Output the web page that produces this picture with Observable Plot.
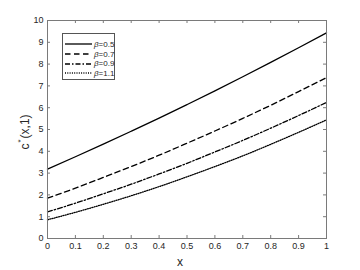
<!DOCTYPE html>
<html><head><meta charset="utf-8">
<script src="https://cdn.jsdelivr.net/npm/d3@7"></script>
<script src="https://cdn.jsdelivr.net/npm/@observablehq/plot@0.6"></script>
<style>
body{margin:0;background:#fff;}
#wrap{position:relative;width:360px;height:270px;font-family:"Liberation Sans",Arial,sans-serif;color:#262626;}
#ylab{position:absolute;left:24px;top:132px;transform:translate(-50%,-50%) rotate(-90deg);white-space:nowrap;font-size:12px;}
#ylab sup{font-size:8px;position:relative;top:-1px;margin:0 1px;}
#xlab{position:absolute;left:180px;top:262px;transform:translate(-50%,-50%);font-size:12px;}
#legend{position:absolute;left:62px;top:33px;width:53px;height:47px;border:1px solid #555;background:#fff;box-sizing:border-box;}
.row{position:absolute;left:2px;height:10px;display:flex;align-items:center;font-size:8px;white-space:nowrap;}
.row svg{margin-right:2px;}
</style></head><body><div id="wrap"></div>
<script>
const xs = [0, 0.1, 0.2, 0.3, 0.4, 0.5, 0.6, 0.7, 0.8, 0.9, 1];
const beta05 = [3.18, 3.75, 4.33, 4.92, 5.52, 6.14, 6.77, 7.42, 8.08, 8.75, 9.43];
const beta07 = [1.85, 2.31, 2.80, 3.30, 3.82, 4.37, 4.93, 5.51, 6.11, 6.74, 7.38];
const beta09 = [1.22, 1.62, 2.05, 2.49, 2.96, 3.45, 3.97, 4.50, 5.06, 5.64, 6.24];
const beta11 = [0.86, 1.20, 1.57, 1.96, 2.38, 2.83, 3.30, 3.79, 4.32, 4.87, 5.44];
const seriesNames = ["β=0.5", "β=0.7", "β=0.9", "β=1.1"];
const xTicks = [0, 0.1, 0.2, 0.3, 0.4, 0.5, 0.6, 0.7, 0.8, 0.9, 1];
const yTicks = [0, 1, 2, 3, 4, 5, 6, 7, 8, 9, 10];

const allSeries = [beta05, beta07, beta09, beta11];
const dashStyles = [null, "5.5,3.5", "5,2,1.5,2", "1,1.3"];

const W = 360, H = 270, mL = 47, mR = 34, mT = 20, mB = 32;
const innerW = W - mL - mR, innerH = H - mT - mB;
const axisColor = "#7a7a7a";
const fmt = d => String(+d.toFixed(1));

const lineMarks = allSeries.map((vals, i) => {
  const rows = xs.map((x, j) => ({x, y: vals[j]}));
  return Plot.line(rows, {x: "x", y: "y", stroke: "#000", strokeWidth: 1.3,
    strokeDasharray: dashStyles[i], curve: "monotone-x"});
});

const chart = Plot.plot({
  width: W, height: H,
  marginLeft: mL, marginRight: mR, marginTop: mT, marginBottom: mB,
  style: {fontFamily: "'Liberation Sans', Arial, sans-serif", background: "#fff"},
  x: {domain: [0, 1]},
  y: {domain: [0, 10]},
  marks: [
    ...lineMarks,
    Plot.frame({stroke: axisColor, strokeWidth: 1}),
    Plot.tickX(xTicks, {x: d => d, insetTop: innerH - 3, stroke: axisColor}),
    Plot.tickX(xTicks, {x: d => d, insetBottom: innerH - 3, stroke: axisColor}),
    Plot.tickY(yTicks, {y: d => d, insetRight: innerW - 3, stroke: axisColor}),
    Plot.tickY(yTicks, {y: d => d, insetLeft: innerW - 3, stroke: axisColor}),
    Plot.axisX(xTicks, {tickSize: 0, tickPadding: 4, tickFormat: fmt, label: null, fontSize: 9, fill: "#262626"}),
    Plot.axisY(yTicks, {tickSize: 0, tickPadding: 4, tickFormat: fmt, label: null, fontSize: 9, fill: "#262626"})
  ]
});

const wrap = document.getElementById("wrap");
wrap.appendChild(chart);

const ylab = document.createElement("div");
ylab.id = "ylab";
ylab.innerHTML = "c<sup>*</sup>(x,1)";
wrap.appendChild(ylab);

const xlab = document.createElement("div");
xlab.id = "xlab";
xlab.textContent = "x";
wrap.appendChild(xlab);

const legend = document.createElement("div");
legend.id = "legend";
const rowTops = [5.3, 15.3, 24.6, 34];
seriesNames.forEach((name, i) => {
  const row = document.createElement("div");
  row.className = "row";
  row.style.top = rowTops[i] + "px";
  const dash = dashStyles[i] ? ` stroke-dasharray="${dashStyles[i]}"` : "";
  row.innerHTML = `<svg width="27" height="4"><line x1="0" y1="2" x2="27" y2="2" stroke="#000" stroke-width="1.3"${dash}/></svg><span><i>β</i>=${name.split("=")[1]}</span>`;
  legend.appendChild(row);
});
wrap.appendChild(legend);
</script>
</body></html>
